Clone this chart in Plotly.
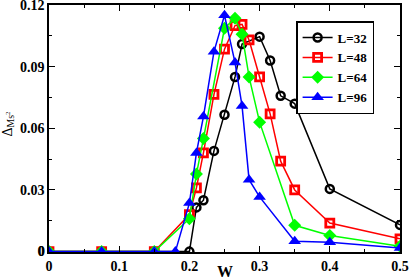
import plotly.graph_objects as go

W32 = [0, 0.075, 0.15, 0.2, 0.21, 0.22, 0.235, 0.25, 0.265, 0.275, 0.3, 0.315, 0.33, 0.35, 0.4, 0.5]
V32 = [0, 0, 0, 0, 0.0215, 0.025, 0.049, 0.0666, 0.085, 0.101, 0.1046, 0.093, 0.0758, 0.072, 0.0305, 0.013]

W48 = [0, 0.075, 0.15, 0.2, 0.21, 0.22, 0.235, 0.25, 0.265, 0.275, 0.285, 0.3, 0.315, 0.33, 0.35, 0.4, 0.5]
V48 = [0, 0, 0, 0.018, 0.031, 0.048, 0.0765, 0.0985, 0.110, 0.1106, 0.103, 0.085, 0.067, 0.044, 0.030, 0.0139, 0.0062]

W64 = [0, 0.075, 0.15, 0.2, 0.21, 0.22, 0.25, 0.265, 0.275, 0.285, 0.3, 0.35, 0.4, 0.5]
V64 = [0, 0, 0, 0.016, 0.0377, 0.055, 0.1087, 0.1135, 0.1058, 0.085, 0.063, 0.0128, 0.0078, 0.0026]

W96 = [0, 0.075, 0.15, 0.18, 0.2, 0.21, 0.22, 0.235, 0.25, 0.265, 0.275, 0.285, 0.3, 0.35, 0.4, 0.5]
V96 = [0, 0, 0, 0, 0.0236, 0.048, 0.0657, 0.0973, 0.115, 0.092, 0.0709, 0.035, 0.0266, 0.005, 0.0045, 0.0018]

LABELS = ["L=32", "L=48", "L=64", "L=96"]
X_TICKS = [0, 0.1, 0.2, 0.3, 0.4, 0.5]
X_TICK_TEXT = ["0", "0.1", "0.2", "0.3", "0.4", "0.5"]
Y_TICKS = [0, 0.03, 0.06, 0.09, 0.12]
Y_TICK_TEXT = ["0", "0.03", "0.06", "0.09", "0.12"]

FONT = "Liberation Serif"

fig = go.Figure()
fig.add_trace(go.Scatter(x=W32, y=V32, name=LABELS[0], mode="lines+markers",
                         line=dict(color="black", width=1.5),
                         marker=dict(symbol="circle-open", size=8, color="black", line=dict(width=2.5))))
fig.add_trace(go.Scatter(x=W48, y=V48, name=LABELS[1], mode="lines+markers",
                         line=dict(color="#ff0000", width=1.5),
                         marker=dict(symbol="square-open", size=8, color="#ff0000", line=dict(width=2.8))))
fig.add_trace(go.Scatter(x=W64, y=V64, name=LABELS[2], mode="lines+markers",
                         line=dict(color="#00ff00", width=1.5),
                         marker=dict(symbol="diamond", size=10, color="#00ff00", line=dict(width=0))))
fig.add_trace(go.Scatter(x=W96, y=V96, name=LABELS[3], mode="lines+markers",
                         line=dict(color="#0000ff", width=1.5),
                         marker=dict(symbol="triangle-up", size=11, color="#0000ff", line=dict(width=0))))

axis_common = dict(showgrid=False, zeroline=False, showline=True, linecolor="black", linewidth=1.5,
                   mirror="ticks", ticks="inside", ticklen=6, tickwidth=1, tickcolor="black",
                   automargin=False, ticklabeloverflow="allow",
                   tickfont=dict(family=FONT, size=14, color="black", weight="bold"))

fig.update_xaxes(range=[-0.0000001, 0.5000001], tickvals=X_TICKS, ticktext=X_TICK_TEXT,
                 minor=dict(ticks="inside", dtick=0.05, ticklen=3, tickcolor="black"),
                 **axis_common)
fig.update_yaxes(range=[-0.0002, 0.12000001], tickvals=Y_TICKS, ticktext=Y_TICK_TEXT,
                 minor=dict(ticks="inside", dtick=0.015, ticklen=3, tickcolor="black"),
                 **axis_common)

# y tick label at 0 (hidden by plotly at the axis corner)
fig.add_annotation(text="<b>" + Y_TICK_TEXT[0] + "</b>", xref="paper", yref="y", x=0, y=Y_TICKS[0],
                   xshift=-2, xanchor="right", yanchor="middle", showarrow=False,
                   font=dict(family=FONT, size=14, color="black"))
fig.add_annotation(text="<b>W</b>", xref="paper", yref="paper", x=0.5, y=0, yshift=-19,
                   xanchor="center", yanchor="middle", showarrow=False,
                   font=dict(family=FONT, size=16, color="black"))
fig.add_annotation(text="Δ<sub>Ms<sup>2</sup></sub>", xref="paper", yref="paper", x=0, y=0.5,
                   xshift=-41, yshift=5, textangle=-90,
                   xanchor="center", yanchor="middle", showarrow=False,
                   font=dict(family=FONT, size=14, color="black"))

fig.update_layout(
    width=411, height=280,
    margin=dict(l=49, r=11, t=5, b=28),
    plot_bgcolor="white", paper_bgcolor="white",
    showlegend=True,
    legend=dict(x=0.704, y=0.935, xanchor="left", yanchor="top",
                bgcolor="white", bordercolor="black", borderwidth=1.5,
                font=dict(family=FONT, size=13, color="black", weight="bold"),
                itemwidth=30, tracegroupgap=0),
)

fig.write_html("out.html", config={"displayModeBar": False},
               post_script="document.body.style.margin='0';document.body.style.padding='0';document.body.style.overflow='hidden';")
